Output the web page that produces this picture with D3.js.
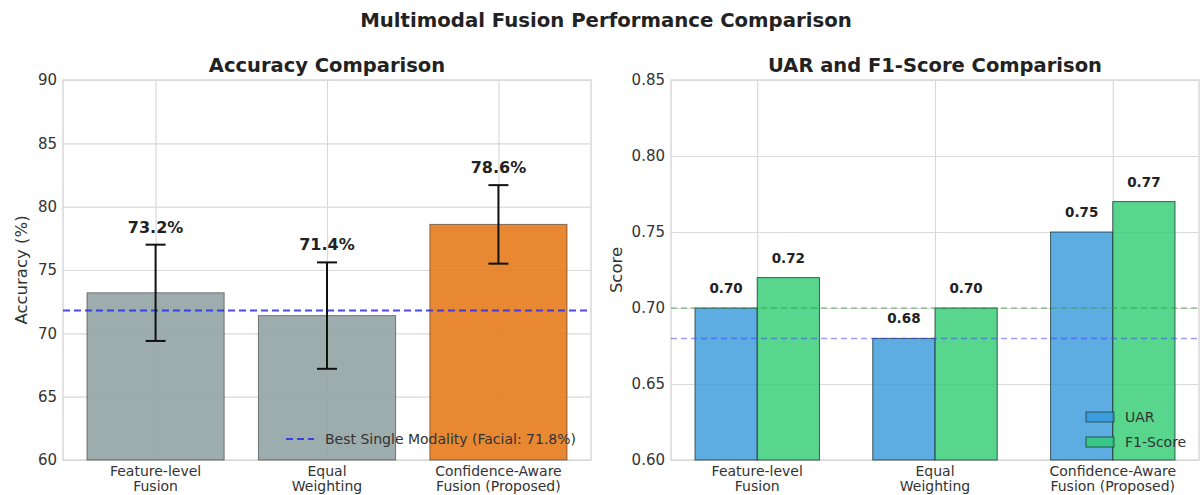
<!DOCTYPE html>
<html>
<head>
<meta charset="utf-8">
<script src="https://cdn.jsdelivr.net/npm/d3@7"></script>
<style>
  html, body { margin: 0; padding: 0; background: #fff; }
  svg { display: block; font-family: "DejaVu Sans", sans-serif; }
</style>
</head>
<body>
<svg id="chart" width="1202" height="495"></svg>
<script>
// Methods compared in both panels
const methods = ["Feature-level\nFusion", "Equal\nWeighting", "Confidence-Aware\nFusion (Proposed)"];

// Accuracy panel
const accuracy = [73.2, 71.4, 78.6];
const accuracyErr = [3.8, 4.2, 3.1];
const bestSingle = 71.8;
const accTicks = [60, 65, 70, 75, 80, 85, 90];

// UAR / F1 panel
const uar = [0.70, 0.68, 0.75];
const f1 = [0.72, 0.70, 0.77];
const uarBaseline = 0.68;
const f1Baseline = 0.70;
const scoreTicks = [0.60, 0.65, 0.70, 0.75, 0.80, 0.85];

const svg = d3.select("#chart");
const gridColor = "#d9d9d9";
const textColor = "#333";

svg.append("text")
  .attr("x", 606).attr("y", 27)
  .attr("text-anchor", "middle")
  .attr("font-size", 19.7).attr("font-weight", "bold")
  .attr("fill", "#222")
  .text("Multimodal Fusion Performance Comparison");

const plotTop = 80, plotBottom = 460;

function panel(left, right, title, domainX, domainY, ticks, fmt, yLabel, yLabelX) {
  const g = svg.append("g");
  const x = d3.scaleLinear().domain(domainX).range([left, right]);
  const y = d3.scaleLinear().domain(domainY).range([plotBottom, plotTop]);

  // horizontal grid + y ticks
  const yAxis = d3.axisLeft(y).tickValues(ticks).tickFormat(fmt).tickSize(-(right - left)).tickPadding(6);
  const ya = g.append("g").attr("transform", `translate(${left},0)`).call(yAxis);
  ya.select(".domain").remove();
  ya.selectAll("line").attr("stroke", gridColor).attr("stroke-width", 1.2);
  ya.selectAll("text").attr("font-size", 15).attr("fill", textColor).attr("font-family", "DejaVu Sans");

  // vertical grid at category positions + x tick labels
  const xAxis = d3.axisBottom(x).tickValues([0, 1, 2]).tickSize(-(plotBottom - plotTop)).tickFormat("");
  const xa = g.append("g").attr("transform", `translate(0,${plotBottom})`).call(xAxis);
  xa.select(".domain").remove();
  xa.selectAll("line").attr("stroke", gridColor).attr("stroke-width", 1.2);
  methods.forEach((m, i) => {
    const lines = m.split("\n");
    const t = g.append("text")
      .attr("x", x(i)).attr("y", plotBottom + 15.5)
      .attr("text-anchor", "middle")
      .attr("font-size", 14).attr("fill", textColor);
    lines.forEach((l, k) => t.append("tspan").attr("x", x(i)).attr("dy", k === 0 ? 0 : 15.5).text(l));
  });

  // frame
  g.append("rect").attr("class", "frame")
    .attr("x", left).attr("y", plotTop).attr("width", right - left).attr("height", plotBottom - plotTop)
    .attr("fill", "none").attr("stroke", gridColor).attr("stroke-width", 1.5);

  g.append("text")
    .attr("x", (left + right) / 2).attr("y", 72)
    .attr("text-anchor", "middle")
    .attr("font-size", 19.5).attr("font-weight", "bold").attr("fill", "#222")
    .text(title);

  g.append("text")
    .attr("transform", `translate(${yLabelX},${(plotTop + plotBottom) / 2}) rotate(-90)`)
    .attr("text-anchor", "middle")
    .attr("font-size", 16.5).attr("fill", textColor)
    .text(yLabel);

  return { g, x, y };
}

// ---- Accuracy panel ----
const A = panel(63, 591, "Accuracy Comparison", [-0.54, 2.54], [60, 90], accTicks, d3.format("d"), "Accuracy (%)", 27);
const accW = 0.8;
const accColors = ["#95a5a6", "#95a5a6", "#e67e22"];

A.g.selectAll("rect.bar").data(accuracy).join("rect")
  .attr("class", "bar")
  .attr("x", (d, i) => A.x(i - accW / 2))
  .attr("width", A.x(accW) - A.x(0))
  .attr("y", d => A.y(d))
  .attr("height", d => A.y(60) - A.y(d))
  .attr("fill", (d, i) => accColors[i]).attr("fill-opacity", 0.92)
  .attr("stroke", "#333").attr("stroke-opacity", 0.6).attr("stroke-width", 1);

A.g.append("line")
  .attr("x1", 63).attr("x2", 591)
  .attr("y1", A.y(bestSingle)).attr("y2", A.y(bestSingle))
  .attr("stroke", "#2b2bf0").attr("stroke-opacity", 0.85)
  .attr("stroke-width", 2).attr("stroke-dasharray", "7,4");

// error bars
accuracy.forEach((v, i) => {
  const cx = A.x(i), lo = A.y(v - accuracyErr[i]), hi = A.y(v + accuracyErr[i]);
  A.g.append("line").attr("x1", cx).attr("x2", cx).attr("y1", lo).attr("y2", hi)
    .attr("stroke", "#111").attr("stroke-width", 2);
  [lo, hi].forEach(yy => A.g.append("line")
    .attr("x1", cx - 10).attr("x2", cx + 10).attr("y1", yy).attr("y2", yy)
    .attr("stroke", "#111").attr("stroke-width", 2));
  A.g.append("text")
    .attr("x", cx).attr("y", hi - 12)
    .attr("text-anchor", "middle")
    .attr("font-size", 16).attr("font-weight", "bold").attr("fill", "#222")
    .text(v.toFixed(1) + "%");
});

// legend
A.g.append("line").attr("x1", 286).attr("x2", 314).attr("y1", 439).attr("y2", 439)
  .attr("stroke", "#2b2bf0").attr("stroke-opacity", 0.85)
  .attr("stroke-width", 2).attr("stroke-dasharray", "7,4");
A.g.append("text").attr("x", 325).attr("y", 444)
  .attr("font-size", 14).attr("fill", textColor)
  .text(`Best Single Modality (Facial: ${bestSingle}%)`);

// ---- UAR / F1 panel ----
const S = panel(671, 1199, "UAR and F1-Score Comparison", [-0.485, 2.485], [0.60, 0.85], scoreTicks, d3.format(".2f"), "Score", 622);
const bw = 0.35;
const series = [
  { name: "UAR", values: uar, color: "#3498db", offset: -bw / 2 },
  { name: "F1-Score", values: f1, color: "#2ecc71", offset: bw / 2 }
];

series.forEach(s => {
  S.g.selectAll(null).data(s.values).join("rect")
    .attr("x", (d, i) => S.x(i + s.offset - bw / 2))
    .attr("width", S.x(bw) - S.x(0))
    .attr("y", d => S.y(d))
    .attr("height", d => S.y(0.60) - S.y(d))
    .attr("fill", s.color).attr("fill-opacity", 0.8)
    .attr("stroke", "#1e3a3a").attr("stroke-opacity", 0.8).attr("stroke-width", 1);
  S.g.selectAll(null).data(s.values).join("text")
    .attr("x", (d, i) => S.x(i + s.offset))
    .attr("y", d => S.y(d) - 15)
    .attr("text-anchor", "middle")
    .attr("font-size", 13.5).attr("font-weight", "bold").attr("fill", "#222")
    .text(d => d.toFixed(2));
});

[[f1Baseline, "#2ca02c"], [uarBaseline, "#3a3af5"]].forEach(([v, c]) => {
  S.g.append("line")
    .attr("x1", 671).attr("x2", 1199)
    .attr("y1", S.y(v)).attr("y2", S.y(v))
    .attr("stroke", c).attr("stroke-opacity", 0.5)
    .attr("stroke-width", 1.5).attr("stroke-dasharray", "6,4");
});

// legend
series.forEach((s, k) => {
  const ly = 412 + k * 25;
  S.g.append("rect").attr("x", 1086).attr("y", ly).attr("width", 28).attr("height", 10)
    .attr("fill", s.color).attr("fill-opacity", 0.8)
    .attr("stroke", "#1e3a3a").attr("stroke-opacity", 0.8);
  S.g.append("text").attr("x", 1125).attr("y", ly + 10)
    .attr("font-size", 14).attr("fill", textColor).text(s.name);
});
</script>
</body>
</html>
